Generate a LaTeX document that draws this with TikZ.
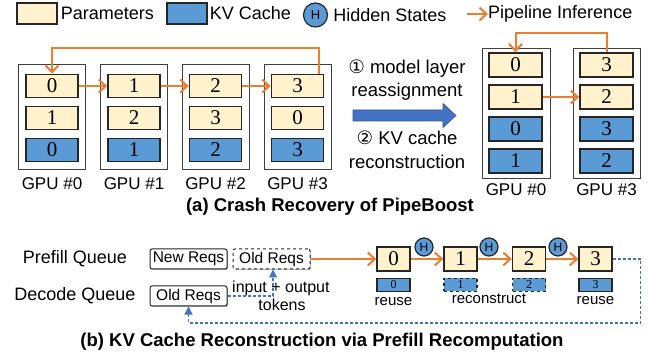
\documentclass[tikz,border=0pt]{standalone}
\usepackage{fontspec}
\setmainfont{Liberation Sans}
\newfontfamily\layerfont{Liberation Serif}
\newfontfamily\circfont{DejaVu Sans}
\usetikzlibrary{arrows.meta,shadows,positioning}

\definecolor{paramfill}{HTML}{FFF2CC}
\definecolor{kvfill}{HTML}{5B9BD5}
\definecolor{pipeorange}{HTML}{ED7D31}
\definecolor{flowblue}{HTML}{4472C4}

\tikzset{
	gpu/.style={draw=black!75,line width=0.8pt,inner sep=0pt},
	layer/.style={draw=black!85,line width=1.5pt,fill=paramfill,minimum width=52pt,minimum height=23pt,inner sep=0pt,font=\fontsize{21}{21}\layerfont},
	kv/.style={layer,fill=kvfill},
	hid/.style={circle,draw=black!85,line width=1.2pt,fill=kvfill,inner sep=0pt,minimum size=18pt,font=\fontsize{12}{12}\selectfont},
	pipe/.style={draw=pipeorange,line width=2pt,-{Straight Barb[length=7pt,width=13pt]}},
	kvflow/.style={draw=flowblue,line width=1.2pt,dash pattern=on 3pt off 2pt,-{Triangle[length=8pt,width=8pt]}},
	queue/.style={draw=black!85,line width=1pt,rounded corners=2pt,fill=white,drop shadow={shadow xshift=1pt,shadow yshift=-1pt,fill=black!60},minimum width=77pt,minimum height=20pt,inner sep=0pt,font=\fontsize{15.5}{15.5}\selectfont},
	lbl/.style={inner sep=0pt,font=\fontsize{17}{17}\selectfont},
	biglbl/.style={inner sep=0pt,font=\fontsize{18}{18}\selectfont},
	midlbl/.style={inner sep=0pt,font=\fontsize{18.5}{18.5}\selectfont},
	small/.style={inner sep=0pt,font=\fontsize{15}{15}\selectfont},
	title/.style={inner sep=0pt,font=\fontsize{18.5}{18.5}\selectfont\bfseries}
}

\begin{document}
\begin{tikzpicture}[x=1pt,y=-1pt]
	\useasboundingbox (0,0) rectangle (651,358);

	% legend
	\node[layer,minimum width=40pt,minimum height=21pt] (legpar) at (37,13.5) {};
	\node[biglbl,right=3pt of legpar] (legpartxt) {Parameters};
	\node[kv,minimum width=40pt,minimum height=21pt] (legkv) at (187,13.5) {};
	\node[biglbl,right=2pt of legkv] (legkvtxt) {KV Cache};
	\node[hid,minimum size=24pt,font=\fontsize{13}{13}\selectfont] (leghid) at (315.5,15) {H};
	\node[biglbl,right=5pt of leghid] (leghidtxt) {Hidden States};
	\node[biglbl,anchor=west] (legpipe) at (488,14) {Pipeline Inference};
	\draw[pipe] ([xshift=-21pt]legpipe.west) -- (legpipe.west);

	% (a) before the crash
	\foreach \i/\x/\a/\b in {0/52/0/1, 1/134/1/2, 2/215.5/2/3, 3/297.5/3/0}{
		\node[gpu,minimum width=67pt,minimum height=105pt] (g\i) at (\x,116.5) {};
		\node[layer] (pa\i) at (\x,86) {\a};
		\node[layer] (pb\i) at (\x,118) {\b};
		\node[kv] (pc\i) at (\x,150) {\i};
		\node[lbl,below=8pt of g\i] (gl\i) {GPU \#\i};
	}
	\draw[pipe] (pa0.east) -- (pa1.west);
	\draw[pipe] (pa1.east) -- (pa2.west);
	\draw[pipe] (pa2.east) -- (pa3.west);
	\draw[pipe] ([xshift=-5pt]pa3.north east) -- ++(0,-26) -| (pa0.north);

	% recovery steps
	\node[midlbl] (step1) at (407,69) {{\circfont ①} model layer};
	\node[midlbl] (step1b) at (407,92) {reassignment};
	\filldraw[fill=flowblue,draw=flowblue!75!black,line width=0.6pt]
		(353,110) -- (443,110) -- (443,103.5) -- (456,115.5) -- (443,127.5) -- (443,121) -- (353,121) -- cycle;
	\node[midlbl] (step2) at (407,138) {{\circfont ②} KV cache};
	\node[midlbl] (step2b) at (407,162) {reconstruction};

	% (a) after the crash
	\node[gpu,minimum width=68pt,minimum height=130pt] (r0) at (516,113) {};
	\node[gpu,minimum width=67pt,minimum height=130pt] (r3) at (606.5,113) {};
	\foreach \n/\x/\a/\b/\c/\d in {0/515.5/0/1/0/1, 3/606.5/3/2/3/2}{
		\node[layer,minimum width=53pt,minimum height=24pt] (qa\n) at (\x,65) {\a};
		\node[layer,minimum width=53pt,minimum height=24pt] (qb\n) at (\x,97) {\b};
		\node[kv,minimum width=53pt,minimum height=24pt] (qc\n) at (\x,129) {\c};
		\node[kv,minimum width=53pt,minimum height=24pt] (qd\n) at (\x,161) {\d};
		\node[lbl,below=5pt of r\n] (rl\n) {GPU \#\n};
	}
	\draw[pipe] (qb0.east) -- (qb3.west);
	\draw[pipe] (qa3.north) -- ++(0,-19) -| (qa0.north);

	\node[title] (titlea) at (330,207) {(a) Crash Recovery of PipeBoost};

	% (b) queues
	\node[biglbl] (prefill) at (75,259) {Prefill Queue};
	\node[biglbl] (decode) at (75,296) {Decode Queue};
	\node[queue] (newreq) at (188.5,259) {New Reqs};
	\node[queue,dashed,right=5pt of newreq] (oldreq) {Old Reqs};
	\node[queue] (decreq) at (188.5,296) {Old Reqs};

	% (b) prefill recomputation
	\foreach \i/\x/\s in {0/393.5/solid, 1/460.5/dashed, 2/529/dashed, 3/595.5/solid}{
		\node[layer,minimum width=33pt,minimum height=24pt] (b\i) at (\x,259) {\i};
		\node[kv,\s,line width=1.3pt,minimum width=33pt,minimum height=13pt,font=\fontsize{12}{12}\layerfont,below=6pt of b\i] (k\i) {\i};
	}
	\draw[pipe] (oldreq.east) -- (b0.west);
	\draw[pipe] (b0.east) -- (b1.west);
	\draw[pipe] (b1.east) -- (b2.west);
	\draw[pipe] (b2.east) -- (b3.west);
	\node[hid] (h0) at (424,247) {H};
	\node[hid] (h1) at (489,247) {H};
	\node[hid] (h2) at (558,247) {H};

	\node[small,below=5pt of k0] (reuse0) {reuse};
	\node[small] (recon) at (489,299) {reconstruct};
	\node[small,below=4pt of k3] (reuse3) {reuse};

	\draw[kvflow] (b3.east) -| ++(28,64) -| (decreq.south);
	\draw[kvflow] (decreq.east) -| ([xshift=1.5pt]oldreq.south);
	\node[small,font=\fontsize{16}{16}\selectfont,anchor=west] (tokin) at (232,288) {input + output};
	\node[small,font=\fontsize{16}{16}\selectfont] (tokout) at (282,305) {tokens};

	\node[title] (titleb) at (322,342) {(b) KV Cache Reconstruction via Prefill Recomputation};
\end{tikzpicture}
\end{document}
